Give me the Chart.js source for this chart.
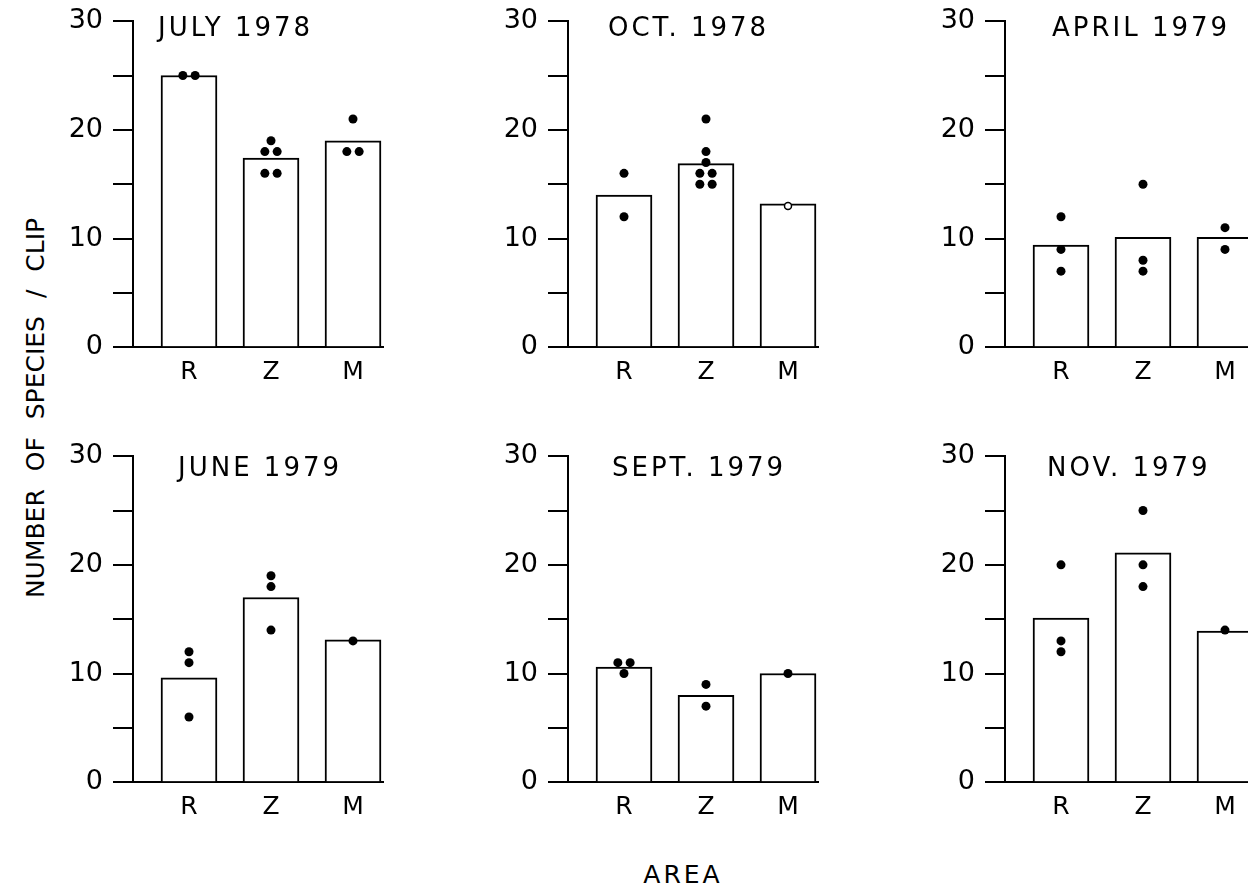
<!DOCTYPE html>
<html>
<head>
<meta charset="utf-8">
<title>Number of species per clip by area</title>
<script src="https://cdn.jsdelivr.net/npm/chart.js@4.4.0/dist/chart.umd.min.js"></script>
<style>
  html, body { margin: 0; padding: 0; background: #fff; }
  body { width: 1248px; height: 887px; overflow: hidden; position: relative; font-family: "DejaVu Sans", sans-serif; color: #000; }
  canvas.panel { position: absolute; }
  #y-title { position: absolute; left: 35px; top: 408px; transform: translate(-50%, -50%) rotate(-90deg); white-space: nowrap; font-size: 25px; letter-spacing: 0; word-spacing: 10px; }
  #x-title { position: absolute; left: 683px; top: 874px; transform: translate(-50%, -50%); white-space: nowrap; font-size: 25px; letter-spacing: 3px; }
</style>
</head>
<body>
<canvas class="panel" id="panel-0"></canvas>
<canvas class="panel" id="panel-1"></canvas>
<canvas class="panel" id="panel-2"></canvas>
<canvas class="panel" id="panel-3"></canvas>
<canvas class="panel" id="panel-4"></canvas>
<canvas class="panel" id="panel-5"></canvas>
<div id="y-title">NUMBER OF SPECIES / CLIP</div>
<div id="x-title">AREA</div>
<script>
// DATA
const areas = ["R", "Z", "M"];
const yTickValues = [0, 10, 20, 30];

const july1978Means = [25, 17.4, 19];
const july1978Clips = [[25, 25], [19, 18, 18, 16, 16], [21, 18, 18]];

const oct1978Means = [14, 16.9, 13.2];
const oct1978Clips = [[16, 12], [21, 18, 17, 16, 16, 15, 15], []];
const oct1978OpenClips = [[], [], [13]];

const april1979Means = [9.4, 10.1, 10.1];
const april1979Clips = [[12, 9, 7], [15, 8, 7], [11, 9]];

const june1979Means = [9.6, 17, 13.1];
const june1979Clips = [[12, 11, 6], [19, 18, 14], [13]];

const sept1979Means = [10.6, 8, 10];
const sept1979Clips = [[11, 11, 10], [9, 7], [10]];

const nov1979Means = [15.1, 21.1, 13.9];
const nov1979Clips = [[20, 13, 12], [25, 20, 18], [14]];

// LAYOUT (pixels, not data)
const FONT = "'DejaVu Sans', sans-serif";
const Y_AXIS_WIDTH = 80;
const PAD_TOP = 18;
const X_AXIS_HEIGHT = 42;
const PLOT_WIDTH = 250;
const PLOT_HEIGHT = 326;
const colAxisX = [133, 568, 1005];
const rowTopY = [21, 456];

const panels = [
    { title: "JULY 1978", means: july1978Means, clips: july1978Clips, open: null, col: 0, row: 0, titleDx: 25, titleDy: 8 },
    { title: "OCT. 1978", means: oct1978Means, clips: oct1978Clips, open: oct1978OpenClips, col: 1, row: 0, titleDx: 40, titleDy: 8 },
    { title: "APRIL 1979", means: april1979Means, clips: april1979Clips, open: null, col: 2, row: 0, titleDx: 47, titleDy: 8 },
    { title: "JUNE 1979", means: june1979Means, clips: june1979Clips, open: null, col: 0, row: 1, titleDx: 45, titleDy: 13 },
    { title: "SEPT. 1979", means: sept1979Means, clips: sept1979Clips, open: null, col: 1, row: 1, titleDx: 44, titleDy: 13 },
    { title: "NOV. 1979", means: nov1979Means, clips: nov1979Clips, open: null, col: 2, row: 1, titleDx: 42, titleDy: 13 },
];

// FRUITFUL FUNCTIONS
// clips with the same count in one area sit side by side around the area's centre
const spreadDots = (clipsByArea) => {
    const pts = [];
    if (!clipsByArea) return pts;
    clipsByArea.forEach((clips, i) => {
        const counts = {};
        clips.forEach((v) => { counts[v] = (counts[v] || 0) + 1; });
        const seen = {};
        clips.forEach((v) => {
            const n = counts[v];
            const k = seen[v] || 0;
            seen[v] = k + 1;
            pts.push({ x: i + 1 + (k - (n - 1) / 2) * 0.15, y: v });
        });
    });
    return pts;
};

// PLUGINS
const panelTitle = {
    id: "panelTitle",
    afterDraw(chart, args, opts) {
        const { ctx, chartArea } = chart;
        ctx.save();
        ctx.font = "26px " + FONT;
        ctx.letterSpacing = "3px";
        ctx.fillStyle = "#000";
        ctx.textBaseline = "middle";
        ctx.textAlign = "left";
        ctx.fillText(opts.text, chartArea.left + opts.dx, chartArea.top + opts.dy);
        ctx.restore();
    },
};

// RENDER
const renderPanel = (p, idx) => {
    const canvas = document.getElementById("panel-" + idx);
    const width = Y_AXIS_WIDTH + PLOT_WIDTH + 10;
    const height = PAD_TOP + PLOT_HEIGHT + X_AXIS_HEIGHT;
    canvas.width = width;
    canvas.height = height;
    canvas.style.width = width + "px";
    canvas.style.height = height + "px";

    const xMin = 1 - 56 / 82;
    const xMax = xMin + PLOT_WIDTH / 82;

    const chart = new Chart(canvas, {
        type: "bar",
        data: {
            datasets: [
                {
                    type: "scatter",
                    data: spreadDots(p.clips),
                    pointRadius: 4.5,
                    pointBackgroundColor: "#000",
                    pointBorderColor: "#000",
                    pointBorderWidth: 0,
                    order: 0,
                },
                {
                    type: "scatter",
                    data: spreadDots(p.open),
                    pointRadius: 3.5,
                    pointBackgroundColor: "#fff",
                    pointBorderColor: "#000",
                    pointBorderWidth: 1.5,
                    order: 1,
                },
                {
                    type: "bar",
                    data: p.means.map((v, i) => ({ x: i + 1, y: v })),
                    backgroundColor: "#fff",
                    borderColor: "#000",
                    borderWidth: 2,
                    borderSkipped: "start",
                    barThickness: 56,
                    order: 2,
                },
            ],
        },
        options: {
            responsive: false,
            maintainAspectRatio: false,
            animation: false,
            layout: { padding: { top: PAD_TOP, left: 0, right: 10, bottom: 0 } },
            plugins: {
                legend: { display: false },
                tooltip: { enabled: false },
                panelTitle: { text: p.title, dx: p.titleDx, dy: p.titleDy },
            },
            scales: {
                x: {
                    type: "linear",
                    min: xMin,
                    max: xMax,
                    offset: false,
                    afterBuildTicks: (scale) => {
                        scale.ticks = areas.map((a, i) => ({ value: i + 1 }));
                    },
                    ticks: {
                        callback: (v) => areas[v - 1],
                        color: "#000",
                        font: { family: FONT, size: 25 },
                        padding: 2,
                        maxRotation: 0,
                        autoSkip: false,
                    },
                    grid: { display: false, offset: false },
                    border: { display: true, color: "#000", width: 2 },
                    afterFit: (scale) => { scale.height = X_AXIS_HEIGHT; },
                },
                y: {
                    min: 0,
                    max: 30,
                    ticks: {
                        stepSize: 5,
                        callback: (v) => (yTickValues.includes(v) ? v : ""),
                        color: "#000",
                        font: { family: FONT, size: 27 },
                        padding: 10,
                    },
                    grid: { drawOnChartArea: false, drawTicks: true, tickLength: 20, color: "#000", lineWidth: 2 },
                    border: { display: true, color: "#000", width: 2 },
                    afterFit: (scale) => { scale.width = Y_AXIS_WIDTH; },
                },
            },
        },
        plugins: [panelTitle],
    });

    // make the plot area exactly PLOT_HEIGHT tall, then pin its corner to the page grid
    const dh = PLOT_HEIGHT - (chart.chartArea.bottom - chart.chartArea.top);
    if (Math.abs(dh) > 0.5) chart.resize(width, height + dh);
    canvas.style.left = (colAxisX[p.col] - chart.chartArea.left) + "px";
    canvas.style.top = (rowTopY[p.row] - chart.chartArea.top) + "px";
};

window.addEventListener("load", () => {
    panels.forEach((p, i) => renderPanel(p, i));
});
</script>
</body>
</html>
